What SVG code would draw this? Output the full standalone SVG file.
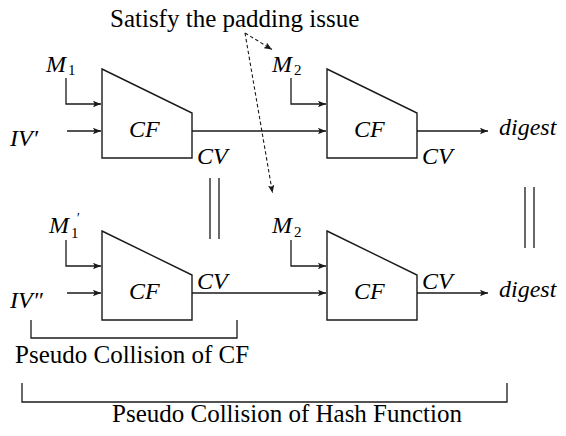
<svg xmlns="http://www.w3.org/2000/svg" width="566" height="436" viewBox="0 0 566 436">
<defs>
<marker id="ah" viewBox="0 0 10 8" refX="10" refY="4" markerWidth="8" markerHeight="6.4" markerUnits="userSpaceOnUse" orient="auto">
<path d="M0,0 L10,4 L0,8 L2,4 z" fill="#1a1a1a"/>
</marker>
</defs>
<rect x="0" y="0" width="566" height="436" fill="#ffffff"/>

<g id="connectors" fill="none" stroke="#1a1a1a" stroke-width="1.3">
  <path d="M66,78 V104 H101" marker-end="url(#ah)"/>
  <path d="M67,131 H101" marker-end="url(#ah)"/>
  <path d="M192,131 H326" marker-end="url(#ah)"/>
  <path d="M291,78 V104 H326" marker-end="url(#ah)"/>
  <path d="M417,131 H488" marker-end="url(#ah)"/>
  <path d="M66,240 V266 H101" marker-end="url(#ah)"/>
  <path d="M67,293 H101" marker-end="url(#ah)"/>
  <path d="M192,293 H326" marker-end="url(#ah)"/>
  <path d="M291,240 V266 H326" marker-end="url(#ah)"/>
  <path d="M417,293 H488" marker-end="url(#ah)"/>
  <g stroke-width="1.1" stroke-dasharray="3.5 2.5">
    <path d="M245,33 L272,49.5" marker-end="url(#ah)"/>
    <path d="M245,33 L272.5,193" marker-end="url(#ah)"/>
  </g>
</g>

<g id="note">
  <text x="110" y="27" style="font-family:'Liberation Serif','Times New Roman',serif;font-size:25px">Satisfy the padding issue</text>
</g>

<g id="cf1">
  <polygon points="102,69 192,113 192,158 102,158" fill="none" stroke="#1a1a1a" stroke-width="1.4"/>
  <text x="129" y="137" style="font-family:'Liberation Serif','Times New Roman',serif;font-size:24px;font-style:italic">CF</text>
</g>
<g id="cf2">
  <polygon points="327,69 417,113 417,158 327,158" fill="none" stroke="#1a1a1a" stroke-width="1.4"/>
  <text x="354" y="137" style="font-family:'Liberation Serif','Times New Roman',serif;font-size:24px;font-style:italic">CF</text>
</g>
<g id="cf3">
  <polygon points="102,231 192,275 192,320 102,320" fill="none" stroke="#1a1a1a" stroke-width="1.4"/>
  <text x="129" y="299" style="font-family:'Liberation Serif','Times New Roman',serif;font-size:24px;font-style:italic">CF</text>
</g>
<g id="cf4">
  <polygon points="327,231 417,275 417,320 327,320" fill="none" stroke="#1a1a1a" stroke-width="1.4"/>
  <text x="354" y="299" style="font-family:'Liberation Serif','Times New Roman',serif;font-size:24px;font-style:italic">CF</text>
</g>

<g id="labels">
  <text x="46" y="71.5" style="font-family:'Liberation Serif','Times New Roman',serif;font-size:24px;font-style:italic">M</text>
  <text x="68" y="75" style="font-family:'Liberation Serif','Times New Roman',serif;font-size:15px">1</text>
  <text x="10" y="145.5" style="font-family:'Liberation Serif','Times New Roman',serif;font-size:24px;font-style:italic">IV′</text>
  <text x="197" y="164" style="font-family:'Liberation Serif','Times New Roman',serif;font-size:24px;font-style:italic">CV</text>
  <text x="272" y="71.5" style="font-family:'Liberation Serif','Times New Roman',serif;font-size:24px;font-style:italic">M</text>
  <text x="294" y="75" style="font-family:'Liberation Serif','Times New Roman',serif;font-size:15px">2</text>
  <text x="422" y="164" style="font-family:'Liberation Serif','Times New Roman',serif;font-size:24px;font-style:italic">CV</text>
  <text x="499" y="135" style="font-family:'Liberation Serif','Times New Roman',serif;font-size:24px;font-style:italic">digest</text>

  <text x="49" y="233" style="font-family:'Liberation Serif','Times New Roman',serif;font-size:24px;font-style:italic">M</text>
  <text x="76" y="223" style="font-family:'Liberation Serif','Times New Roman',serif;font-size:14px;font-style:italic">′</text>
  <text x="71" y="237.5" style="font-family:'Liberation Serif','Times New Roman',serif;font-size:15px">1</text>
  <text x="10" y="308" style="font-family:'Liberation Serif','Times New Roman',serif;font-size:24px;font-style:italic">IV″</text>
  <text x="197" y="289" style="font-family:'Liberation Serif','Times New Roman',serif;font-size:24px;font-style:italic">CV</text>
  <text x="272" y="233" style="font-family:'Liberation Serif','Times New Roman',serif;font-size:24px;font-style:italic">M</text>
  <text x="294" y="237" style="font-family:'Liberation Serif','Times New Roman',serif;font-size:15px">2</text>
  <text x="422" y="289" style="font-family:'Liberation Serif','Times New Roman',serif;font-size:24px;font-style:italic">CV</text>
  <text x="499" y="297" style="font-family:'Liberation Serif','Times New Roman',serif;font-size:24px;font-style:italic">digest</text>
</g>

<g id="equal-cf" fill="none" stroke="#1a1a1a" stroke-width="1.3">
  <path d="M210,178 V239 M219,178 V239"/>
</g>
<g id="equal-hash" fill="none" stroke="#1a1a1a" stroke-width="1.3">
  <path d="M525,187 V248 M534,187 V248"/>
</g>

<g id="bracket-cf">
  <path d="M31,320 V338 H237 V320" fill="none" stroke="#1a1a1a" stroke-width="1.3"/>
  <text x="15" y="363" style="font-family:'Liberation Serif','Times New Roman',serif;font-size:25px">Pseudo Collision of CF</text>
</g>
<g id="bracket-hash">
  <path d="M22,383 V402 H507 V383" fill="none" stroke="#1a1a1a" stroke-width="1.3"/>
  <text x="112" y="422" style="font-family:'Liberation Serif','Times New Roman',serif;font-size:25px">Pseudo Collision of Hash Function</text>
</g>
</svg>
